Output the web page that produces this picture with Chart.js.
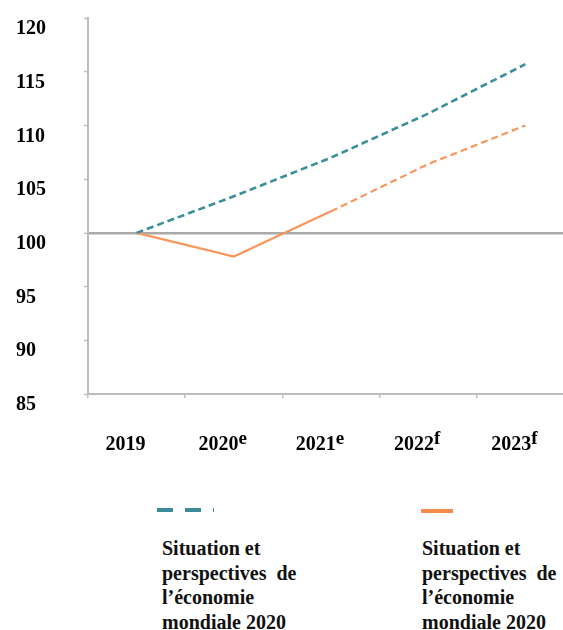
<!DOCTYPE html>
<html>
<head>
<meta charset="utf-8">
<script src="https://cdn.jsdelivr.net/npm/chart.js@4/dist/chart.umd.min.js"></script>
<style>
  html, body { margin: 0; padding: 0; background: #fff; overflow: hidden; }
  body { width: 563px; height: 630px; position: relative; }
  #wrap { position: absolute; left: 0; top: 0; width: 600px; height: 470px; }
  .swatch { position: absolute; height: 4px; }
  .leg-text {
    position: absolute; top: 536px; width: 160px;
    font: bold 20px 'Liberation Serif', 'Times New Roman', serif;
    line-height: 24.5px; color: #111; white-space: pre;
  }
</style>
</head>
<body>
<div id="wrap"><canvas id="chart"></canvas></div>

<div class="swatch" style="left:157px;top:508px;width:57px;background:repeating-linear-gradient(to right,#3d8b98 0 16px,transparent 16px 28px);"></div>
<div class="leg-text" style="left:162px;">Situation et
perspectives  de
l’économie
mondiale 2020</div>

<div class="swatch" style="left:421px;top:509px;width:32px;background:#f78b4c;"></div>
<div class="leg-text" style="left:422px;">Situation et
perspectives  de
l’économie
mondiale 2020</div>

<script>
const years = ['2019', '2020', '2021', '2022', '2023'];
const marks = ['', 'e', 'e', 'f', 'f'];
const tealSeries = [100, 103.4, 107.0, 111.1, 115.7];
const orangeSeries = [100, 97.8, 102.0, 106.4, 110.0];
const yTicks = [85, 90, 95, 100, 105, 110, 115, 120];

const serif = "'Liberation Serif', 'Times New Roman', serif";

// x labels with superscript letters
const xLabelPlugin = {
  id: 'xLabels',
  afterDraw(chart) {
    const x = chart.scales.x;
    const ctx = chart.ctx;
    ctx.save();
    ctx.fillStyle = '#000';
    ctx.textBaseline = 'alphabetic';
    ctx.textAlign = 'left';
    years.forEach((yr, i) => {
      ctx.font = 'bold 20px ' + serif;
      const wB = ctx.measureText(yr).width;
      ctx.font = 'bold 19px ' + serif;
      const wS = marks[i] ? ctx.measureText(marks[i]).width : 0;
      const cx = x.getPixelForValue(i) - 11;
      const start = cx - (wB + wS) / 2;
      ctx.font = 'bold 20px ' + serif;
      ctx.fillText(yr, start, 450);
      if (marks[i]) {
        ctx.font = 'bold 19px ' + serif;
        ctx.fillText(marks[i], start + wB, 444);
      }
    });
    ctx.restore();
  }
};

new Chart(document.getElementById('chart'), {
  type: 'line',
  data: {
    labels: years,
    datasets: [
      {
        label: 'Situation et perspectives de l’économie mondiale 2020',
        data: tealSeries,
        borderColor: '#3a8f9b',
        borderWidth: 2.6,
        borderDash: [7, 4],
        pointRadius: 0,
        tension: 0,
        fill: false
      },
      {
        label: 'Situation et perspectives de l’économie mondiale 2020',
        data: orangeSeries,
        borderColor: '#f8975c',
        borderWidth: 2.2,
        pointRadius: 0,
        tension: 0,
        fill: false,
        segment: {
          borderDash: c => c.p0DataIndex >= 2 ? [7, 4] : undefined
        }
      }
    ]
  },
  options: {
    responsive: true,
    maintainAspectRatio: false,
    animation: false,
    layout: { padding: { left: 16, top: 18, right: 26, bottom: 71 } },
    plugins: {
      legend: { display: false },
      tooltip: { enabled: false }
    },
    scales: {
      x: {
        offset: true,
        afterFit: s => { s.height = 5; },
        grid: { drawOnChartArea: false, offset: true, tickLength: 4, color: '#bfbfbf', lineWidth: 1.5 },
        border: { color: '#bdbdbd', width: 2 },
        ticks: { display: false }
      },
      y: {
        min: 85,
        max: 120,
        afterFit: s => { s.width = 72; },
        afterBuildTicks: s => { s.ticks = yTicks.map(v => ({ value: v })); },
        grid: {
          color: c => c.tick && c.tick.value === 100 ? '#a9a9a9' : 'rgba(0,0,0,0)',
          lineWidth: c => c.tick && c.tick.value === 100 ? 2.6 : 1,
          tickColor: '#bfbfbf',
          tickWidth: 1.5,
          tickLength: 4
        },
        border: { color: '#bdbdbd', width: 2 },
        ticks: {
          crossAlign: 'far',
          labelOffset: 11,
          color: '#000',
          font: { family: serif, size: 20, weight: 'bold' }
        }
      }
    }
  },
  plugins: [xLabelPlugin]
});
</script>
</body>
</html>
